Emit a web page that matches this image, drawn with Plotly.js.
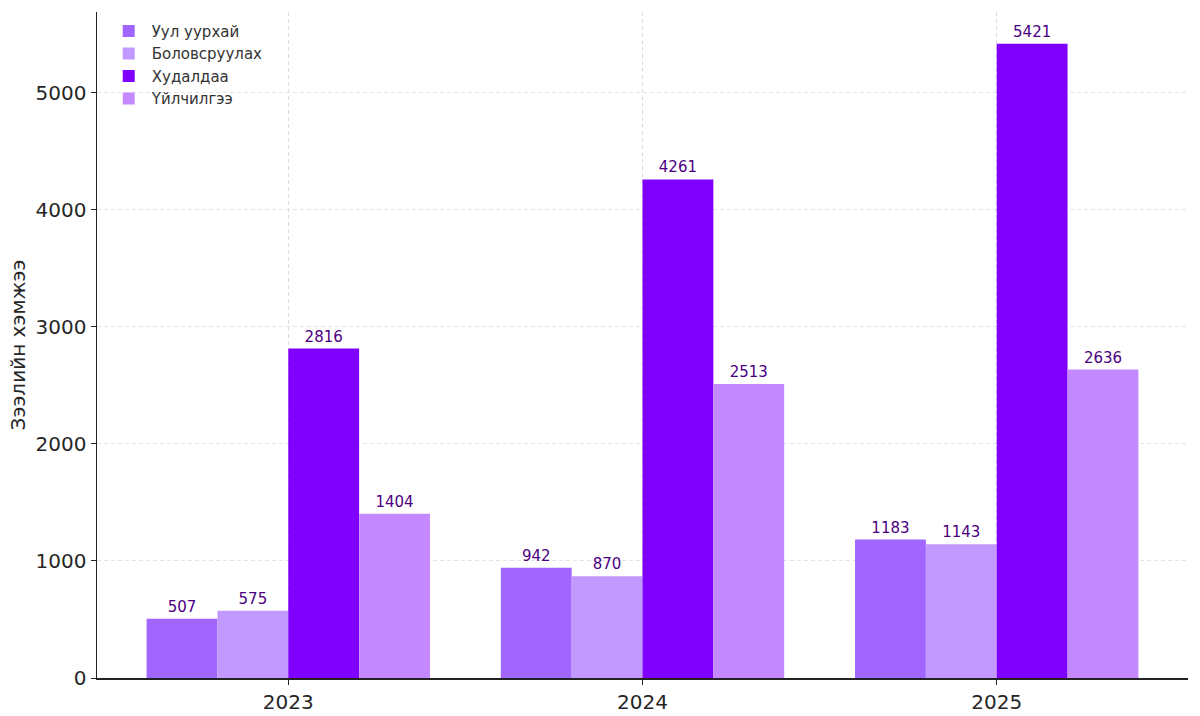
<!DOCTYPE html>
<html>
<head>
<meta charset="utf-8">
<script src="https://cdn.plot.ly/plotly-3.0.1.min.js"></script>
<style>html,body{margin:0;padding:0;background:#fff;}#chart{width:1200px;height:716px;}</style>
</head>
<body>
<div id="chart"></div>
<script>
const years = ["2023", "2024", "2025"];
const seriesNames = ["Уул уурхай", "Боловсруулах", "Худалдаа", "Үйлчилгээ"];
const mining = [507, 942, 1183];
const manufacturing = [575, 870, 1143];
const trade = [2816, 4261, 5421];
const services = [1404, 2513, 2636];
const colors = ["#a066ff", "#c299ff", "#8000ff", "#c488ff"];

const allValues = [mining, manufacturing, trade, services];
const xIdx = years.map((_, i) => i);
const traces = allValues.map((vals, k) => ({
  type: "bar",
  name: seriesNames[k],
  x: xIdx,
  y: vals,
  marker: {color: colors[k], line: {width: 0}},
  text: vals.map(String),
  textposition: "outside",
  cliponaxis: false,
  textfont: {family: "DejaVu Sans", size: 15, color: "#4b0082"},
  hoverinfo: "x+y+name"
}));

const layout = {
  width: 1200, height: 716,
  margin: {l: 97, r: 12, t: 12, b: 38},
  paper_bgcolor: "#fff", plot_bgcolor: "#fff",
  barmode: "group", bargap: 0.2, bargroupgap: 0,
  font: {family: "DejaVu Sans", color: "#262626"},
  showlegend: true,
  legend: {x: 0.008, y: 0.996, xanchor: "left", yanchor: "top", bgcolor: "rgba(255,255,255,0)",
           font: {size: 15, color: "#333"}, itemwidth: 36, tracegroupgap: 0},
  xaxis: {
    range: [-0.54, 2.54], tickvals: xIdx, ticktext: years,
    showgrid: true, gridcolor: "#dcdcdc", griddash: "4px,3px", gridwidth: 1,
    zeroline: false, showline: true, linecolor: "#222", linewidth: 1.5,
    ticks: "outside", ticklen: 5, tickcolor: "#222",
    tickfont: {size: 20, color: "#262626"}
  },
  yaxis: {
    range: [0, 5692], tickvals: [0, 1000, 2000, 3000, 4000, 5000],
    showgrid: true, gridcolor: "#e3e3e3", griddash: "4px,3px", gridwidth: 1,
    zeroline: false, showline: true, linecolor: "#222", linewidth: 1.5,
    ticks: "outside", ticklen: 5, tickcolor: "#222",
    tickfont: {size: 20, color: "#262626"},
    title: {text: "Зээлийн хэмжээ", font: {size: 20, color: "#262626"}, standoff: 4}
  }
};

Plotly.newPlot("chart", traces, layout, {displayModeBar: false, staticPlot: true});
</script>
</body>
</html>
